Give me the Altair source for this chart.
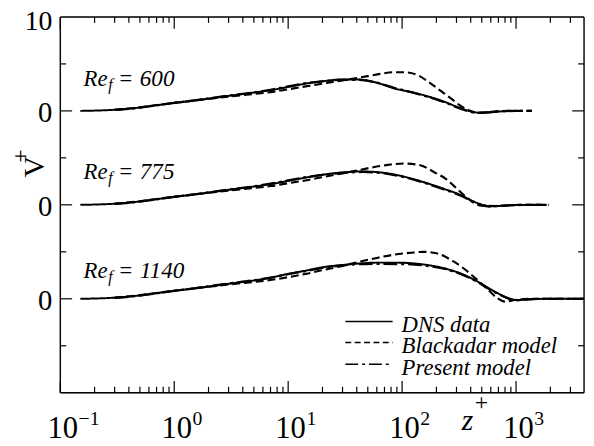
import altair as alt
import pandas as pd
import numpy as np

# ---------------- data ----------------
models = ["DNS data", "Blackadar model", "Present model"]
groups = ["600", "775", "1140"]
offsets = [20, 10, 0]

# Re_f = 600
dns_600_z = [0.15, 0.2, 0.3, 0.45, 0.7, 1, 1.5, 2, 3, 5, 7, 10, 15, 20, 30, 40, 60, 85, 120, 190, 250, 300, 350, 420, 480, 600, 800, 1150]
dns_600_v = [0, 0.03, 0.12, 0.3, 0.6, 0.85, 1.1, 1.3, 1.6, 1.95, 2.2, 2.55, 2.95, 3.15, 3.35, 3.35, 3.0, 2.4, 2.0, 1.35, 0.85, 0.45, 0.15, -0.1, -0.2, -0.15, -0.03, 0]
bla_600_z = [0.3, 0.45, 0.7, 1, 1.5, 2, 3, 5, 7, 10, 15, 20, 30, 40, 50, 65, 85, 110, 140, 170, 220, 270, 320, 380, 450, 550, 700, 1000, 1380]
bla_600_v = [0.12, 0.32, 0.62, 0.85, 1.1, 1.28, 1.52, 1.8, 2.0, 2.3, 2.65, 2.9, 3.25, 3.5, 3.7, 3.95, 4.12, 4.1, 3.75, 3.1, 2.1, 1.3, 0.6, 0.1, -0.18, -0.15, -0.03, 0, 0]
pre_600_z = [0.3, 0.45, 0.7, 1, 1.5, 2, 3, 5, 7, 10, 15, 20, 30, 40, 60, 85, 120, 190, 250, 300, 350, 420, 480, 600, 800, 1000, 1380]
pre_600_v = [0.1, 0.28, 0.58, 0.85, 1.12, 1.33, 1.62, 1.97, 2.25, 2.6, 2.98, 3.15, 3.3, 3.3, 3.0, 2.45, 2.0, 1.3, 0.8, 0.4, 0.1, -0.15, -0.22, -0.12, -0.02, 0, 0]

# Re_f = 775
dns_775_z = [0.15, 0.2, 0.3, 0.45, 0.7, 1, 1.5, 2, 3, 5, 7, 10, 15, 20, 30, 45, 70, 100, 166, 233, 325, 400, 480, 590, 750, 1000, 1700]
dns_775_v = [0, 0.03, 0.12, 0.3, 0.6, 0.85, 1.1, 1.3, 1.6, 1.95, 2.2, 2.55, 2.95, 3.2, 3.45, 3.55, 3.4, 3.05, 2.3, 1.7, 1.05, 0.5, 0.1, -0.15, -0.1, -0.02, 0]
bla_775_z = [0.3, 0.45, 0.7, 1, 1.5, 2, 3, 5, 7, 10, 15, 20, 30, 40, 53, 75, 105, 140, 200, 240, 280, 320, 360, 415, 500, 650, 900, 1300, 1950]
bla_775_v = [0.12, 0.32, 0.62, 0.85, 1.1, 1.28, 1.52, 1.8, 2.0, 2.3, 2.65, 2.95, 3.35, 3.65, 3.95, 4.25, 4.4, 4.25, 3.35, 2.8, 2.1, 1.45, 0.9, 0.3, -0.1, -0.12, -0.03, 0, 0]
pre_775_z = [0.3, 0.45, 0.7, 1, 1.5, 2, 3, 5, 7, 10, 15, 20, 30, 45, 70, 100, 166, 233, 325, 400, 480, 590, 750, 1000, 1950]
pre_775_v = [0.1, 0.28, 0.58, 0.85, 1.12, 1.33, 1.62, 1.97, 2.25, 2.6, 2.98, 3.2, 3.4, 3.5, 3.35, 3.0, 2.25, 1.65, 1.0, 0.45, 0.05, -0.18, -0.1, -0.02, 0]

# Re_f = 1140
dns_1140_z = [0.15, 0.2, 0.3, 0.45, 0.7, 1, 1.5, 2, 3, 5, 7, 10, 15, 20, 30, 45, 60, 90, 130, 166, 233, 325, 450, 620, 870, 1000, 1300, 2000, 3950]
dns_1140_v = [0, 0.03, 0.12, 0.3, 0.6, 0.85, 1.1, 1.3, 1.6, 1.95, 2.25, 2.65, 3.05, 3.35, 3.6, 3.78, 3.85, 3.85, 3.75, 3.6, 3.25, 2.7, 1.9, 0.9, 0.05, -0.15, -0.05, 0, 0]
bla_1140_z = [0.3, 0.45, 0.7, 1, 1.5, 2, 3, 5, 7, 10, 15, 20, 30, 44, 60, 85, 120, 155, 200, 280, 350, 415, 500, 580, 680, 800, 1000, 1400, 3950]
bla_1140_v = [0.12, 0.32, 0.62, 0.85, 1.1, 1.28, 1.52, 1.8, 2.0, 2.3, 2.7, 3.05, 3.5, 4.0, 4.35, 4.7, 4.9, 5.0, 4.85, 4.0, 3.2, 2.45, 1.6, 0.85, 0.1, -0.3, -0.1, 0, 0]
pre_1140_z = [0.3, 0.45, 0.7, 1, 1.5, 2, 3, 5, 7, 10, 15, 20, 30, 45, 60, 90, 130, 166, 233, 325, 450, 620, 870, 1000, 1300, 2000, 3950]
pre_1140_v = [0.1, 0.28, 0.58, 0.85, 1.12, 1.33, 1.62, 1.97, 2.25, 2.62, 3.0, 3.3, 3.55, 3.7, 3.72, 3.7, 3.65, 3.5, 3.2, 2.65, 1.85, 0.85, 0.0, -0.15, -0.05, 0, 0]

series = {
    ("600", "DNS data"): (dns_600_z, dns_600_v),
    ("600", "Blackadar model"): (bla_600_z, bla_600_v),
    ("600", "Present model"): (pre_600_z, pre_600_v),
    ("775", "DNS data"): (dns_775_z, dns_775_v),
    ("775", "Blackadar model"): (bla_775_z, bla_775_v),
    ("775", "Present model"): (pre_775_z, pre_775_v),
    ("1140", "DNS data"): (dns_1140_z, dns_1140_v),
    ("1140", "Blackadar model"): (bla_1140_z, bla_1140_v),
    ("1140", "Present model"): (pre_1140_z, pre_1140_v),
}

x_major = [0.1, 1, 10, 100, 1000]
x_exp = ["\u22121", "0", "1", "2", "3"]
x_minor = [k * 10.0 ** e for e in range(-1, 4) for k in range(2, 10) if k * 10.0 ** e < 3950]
y_major = [0, 10, 20]
y_minor = [-5, 5, 15, 25]
y_label_vals = [0, 10, 20]
y_label_txt = ["0", "0", "0"]
y_top_val = [30]
y_top_txt = ["10"]

label_y = [22.65, 12.7, 2.2]

# ---------------- build table ----------------
frames = []
for (g, m), (z, v) in series.items():
    off = offsets[groups.index(g)]
    frames.append(pd.DataFrame({"z": z, "v": np.array(v, dtype=float) + off,
                                "series": g + " " + m, "model": m}))
df = pd.concat(frames, ignore_index=True)

W, H = 531, 381
FONT = "Liberation Serif, Tinos, Times New Roman, DejaVu Serif, serif"
xscale = alt.Scale(type="log", domain=[0.1, 3950], nice=False)
yscale = alt.Scale(domain=[-10, 30], nice=False, zero=False)
dashes = [[1, 0], [8, 4], [14, 4, 3, 4]]

lines = alt.Chart(df).mark_line(color="black", interpolate="monotone").encode(
    x=alt.X("z:Q", scale=xscale, axis=None),
    y=alt.Y("v:Q", scale=yscale, axis=None),
    strokeDash=alt.StrokeDash("model:N", scale=alt.Scale(domain=models, range=dashes), legend=None),
    strokeWidth=alt.StrokeWidth("model:N", scale=alt.Scale(domain=models, range=[2.0, 2.3, 2.3]), legend=None),
    detail="series:N",
)

def xticks(vals, length):
    d = pd.DataFrame({"z": vals})
    b = alt.Chart(d).mark_rule(color="black", strokeWidth=1.2).encode(
        x=alt.X("z:Q", scale=xscale, axis=None), y=alt.value(H), y2=alt.value(H - length))
    t = alt.Chart(d).mark_rule(color="black", strokeWidth=1.2).encode(
        x=alt.X("z:Q", scale=xscale, axis=None), y=alt.value(0), y2=alt.value(length))
    return [b, t]

def yticks(vals, length):
    d = pd.DataFrame({"v": vals})
    l = alt.Chart(d).mark_rule(color="black", strokeWidth=1.2).encode(
        y=alt.Y("v:Q", scale=yscale, axis=None), x=alt.value(0), x2=alt.value(length))
    r = alt.Chart(d).mark_rule(color="black", strokeWidth=1.2).encode(
        y=alt.Y("v:Q", scale=yscale, axis=None), x=alt.value(W), x2=alt.value(W - length))
    return [l, r]

ticks = xticks(x_major, 12) + xticks(x_minor, 6) + yticks(y_major, 12) + yticks(y_minor, 6)

one = pd.DataFrame({"a": [0]})
frame = [
    alt.Chart(one).mark_rule(color="black", strokeWidth=1.4).encode(x=alt.value(0), x2=alt.value(W), y=alt.value(0)),
    alt.Chart(one).mark_rule(color="black", strokeWidth=1.4).encode(x=alt.value(0), x2=alt.value(W), y=alt.value(H)),
    alt.Chart(one).mark_rule(color="black", strokeWidth=1.4).encode(x=alt.value(0), y=alt.value(0), y2=alt.value(H)),
    alt.Chart(one).mark_rule(color="black", strokeWidth=1.4).encode(x=alt.value(W), y=alt.value(0), y2=alt.value(H)),
]

yl = pd.DataFrame({"v": y_label_vals, "t": y_label_txt})
ylab = alt.Chart(yl).mark_text(align="right", baseline="middle", dx=-8, dy=2,
                               font=FONT, fontSize=29, color="black").encode(
    y=alt.Y("v:Q", scale=yscale, axis=None), x=alt.value(0), text="t:N")
ylt = pd.DataFrame({"v": y_top_val, "t": y_top_txt})
ylabtop = alt.Chart(ylt).mark_text(align="right", baseline="middle", dx=-8, dy=5,
                                   font=FONT, fontSize=28, color="black").encode(
    y=alt.Y("v:Q", scale=yscale, axis=None), x=alt.value(0), text="t:N")

xl = pd.DataFrame({"z": x_major, "exp": x_exp})
xlab10 = alt.Chart(xl).mark_text(text="10", align="left", baseline="alphabetic", dx=-13,
                                 font=FONT, fontSize=31, color="black").encode(
    x=alt.X("z:Q", scale=xscale, axis=None), y=alt.value(H + 46))
xlabexp = alt.Chart(xl).mark_text(align="left", baseline="alphabetic", dx=18.5,
                                  font=FONT, fontSize=20, color="black").encode(
    x=alt.X("z:Q", scale=xscale, axis=None), y=alt.value(H + 33), text="exp:N")

rl = pd.DataFrame({"z": [0.16] * 3, "y": label_y, "num": groups})
def retext(**kw):
    enc = dict(x=alt.X("z:Q", scale=xscale, axis=None), y=alt.Y("y:Q", scale=yscale, axis=None))
    txt = kw.pop("field", None)
    if txt:
        enc["text"] = txt
    return alt.Chart(rl).mark_text(align="left", baseline="alphabetic", font=FONT,
                                   fontStyle="italic", color="black", **kw).encode(**enc)

re_layers = [
    retext(text="Re", fontSize=23),
    retext(text="f", fontSize=16, dx=25, dy=4),
    retext(text="=", fontSize=23, dx=35),
    retext(field="num:N", fontSize=23.5, dx=57),
]

def ptext(txt, x, y, **kw):
    return alt.Chart(one).mark_text(text=txt, font=FONT, color="black", **kw).encode(
        x=alt.value(x), y=alt.value(y))

titles = [
    ptext("V", -26, 152, fontSize=30, angle=270, align="center", baseline="middle"),
    ptext("+", -40, 141, fontSize=24, angle=270, align="center", baseline="middle"),
    ptext("z", 407, 419, fontSize=30, fontStyle="italic", align="left", baseline="alphabetic"),
    ptext("+", 427, 391, fontSize=24, align="center", baseline="middle"),
]

leg = []
leg_rows = [308.7, 330, 352]
for i, m in enumerate(models):
    leg.append(alt.Chart(one).mark_rule(color="black", strokeWidth=1.5,
                                        strokeDash=[[1, 0], [6, 3.5], [13, 4, 3, 4]][i]).encode(
        x=alt.value(289), x2=alt.value(337), y=alt.value(leg_rows[i])))
    leg.append(ptext(m, 346, leg_rows[i] + 11, fontSize=23, fontStyle="italic",
                     align="left", baseline="alphabetic"))

chart = alt.layer(lines, *frame, *ticks, ylab, ylabtop, xlab10, xlabexp, *re_layers, *titles, *leg).properties(
    width=W, height=H,
    autosize=alt.AutoSizeParams(type="none"),
    padding={"left": 53, "top": 6, "right": 2, "bottom": 56},
).configure_view(stroke=None).configure(background="white")

chart.save("out.html", embed_options={"renderer": "svg", "actions": False})
